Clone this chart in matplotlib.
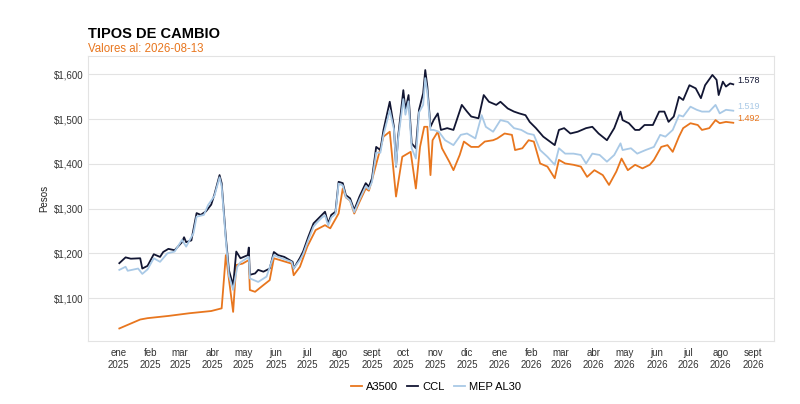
import pandas as pd
import matplotlib.pyplot as plt

plt.rcParams['font.family'] = ['Liberation Sans', 'DejaVu Sans']

# Colores de cada serie
c_a3500 = '#E8761E'
c_ccl = '#121633'
c_mep = '#A9C9E6'

# CCL
ccl_dates = ['2025-01-02', '2025-01-08', '2025-01-13', '2025-01-22', '2025-01-24', '2025-01-29',
             '2025-02-04', '2025-02-10', '2025-02-13', '2025-02-18', '2025-02-24', '2025-03-03',
             '2025-03-05', '2025-03-07', '2025-03-12', '2025-03-17', '2025-03-21', '2025-03-26',
             '2025-03-31', '2025-04-03', '2025-04-08', '2025-04-10', '2025-04-14', '2025-04-17',
             '2025-04-21', '2025-04-24', '2025-04-28', '2025-05-05', '2025-05-06', '2025-05-07',
             '2025-05-12', '2025-05-15', '2025-05-20', '2025-05-26', '2025-05-30', '2025-06-03',
             '2025-06-09', '2025-06-17', '2025-06-18', '2025-06-24', '2025-06-27', '2025-07-02',
             '2025-07-07', '2025-07-10', '2025-07-15', '2025-07-18', '2025-07-21', '2025-07-24',
             '2025-07-28', '2025-07-31', '2025-08-04', '2025-08-07', '2025-08-11', '2025-08-15',
             '2025-08-20', '2025-08-26', '2025-08-29', '2025-09-01', '2025-09-05', '2025-09-09',
             '2025-09-12', '2025-09-18', '2025-09-22', '2025-09-24', '2025-09-26', '2025-10-01',
             '2025-10-03', '2025-10-06', '2025-10-09', '2025-10-13', '2025-10-16', '2025-10-20',
             '2025-10-22', '2025-10-24', '2025-10-27', '2025-10-30', '2025-11-03', '2025-11-06',
             '2025-11-12', '2025-11-18', '2025-11-26', '2025-12-01', '2025-12-05', '2025-12-12',
             '2025-12-17', '2025-12-22', '2025-12-29', '2026-01-02', '2026-01-09', '2026-01-15',
             '2026-01-20', '2026-01-26', '2026-01-30', '2026-02-05', '2026-02-12', '2026-02-23',
             '2026-02-27', '2026-03-04', '2026-03-10', '2026-03-17', '2026-03-25', '2026-03-31',
             '2026-04-06', '2026-04-14', '2026-04-21', '2026-04-27', '2026-04-29', '2026-05-05',
             '2026-05-11', '2026-05-15', '2026-05-20', '2026-05-28', '2026-06-03', '2026-06-08',
             '2026-06-12', '2026-06-17', '2026-06-22', '2026-06-26', '2026-07-02', '2026-07-08',
             '2026-07-13', '2026-07-17', '2026-07-24', '2026-07-28', '2026-07-30', '2026-08-03',
             '2026-08-06', '2026-08-10', '2026-08-13']
ccl_vals = [1178, 1191, 1188, 1189, 1166, 1172,
            1198, 1192, 1203, 1210, 1207, 1225,
            1236, 1225, 1229, 1290, 1286, 1294,
            1309, 1331, 1375, 1357, 1236, 1162,
            1128, 1204, 1189, 1196, 1213, 1152,
            1155, 1163, 1159, 1166, 1203, 1196,
            1192, 1181, 1166, 1190, 1204, 1237,
            1267, 1274, 1286, 1293, 1267, 1286,
            1293, 1360, 1357, 1330, 1323, 1297,
            1327, 1357, 1349, 1368, 1438, 1431,
            1476, 1539, 1483, 1394, 1461, 1565,
            1521, 1554, 1446, 1435, 1521, 1558,
            1610, 1573, 1483, 1498, 1513, 1476,
            1480, 1476, 1532, 1517, 1506, 1502,
            1554, 1539, 1532, 1539, 1524, 1517,
            1513, 1509, 1494, 1480, 1461, 1442,
            1476, 1480, 1468, 1472, 1480, 1483,
            1468, 1453, 1480, 1517, 1498, 1491,
            1476, 1476, 1487, 1487, 1517, 1517,
            1494, 1506, 1550, 1543, 1576, 1569,
            1547, 1576, 1599, 1588, 1554, 1584,
            1573, 1580, 1578]

# MEP AL30
mep_dates = ['2025-01-02', '2025-01-08', '2025-01-10', '2025-01-20', '2025-01-24', '2025-01-29',
             '2025-02-04', '2025-02-10', '2025-02-17', '2025-02-24', '2025-03-03', '2025-03-07',
             '2025-03-14', '2025-03-17', '2025-03-24', '2025-03-28', '2025-04-03', '2025-04-08',
             '2025-04-10', '2025-04-14', '2025-04-17', '2025-04-21', '2025-04-25', '2025-04-28',
             '2025-05-06', '2025-05-07', '2025-05-15', '2025-05-23', '2025-05-30', '2025-06-03',
             '2025-06-16', '2025-06-18', '2025-06-24', '2025-06-27', '2025-07-02', '2025-07-07',
             '2025-07-10', '2025-07-15', '2025-07-18', '2025-07-21', '2025-07-24', '2025-07-28',
             '2025-07-31', '2025-08-04', '2025-08-07', '2025-08-11', '2025-08-15', '2025-08-20',
             '2025-08-26', '2025-08-29', '2025-09-01', '2025-09-05', '2025-09-09', '2025-09-12',
             '2025-09-18', '2025-09-22', '2025-09-24', '2025-09-26', '2025-10-01', '2025-10-03',
             '2025-10-06', '2025-10-09', '2025-10-13', '2025-10-16', '2025-10-20', '2025-10-22',
             '2025-10-24', '2025-10-27', '2025-10-30', '2025-11-04', '2025-11-10', '2025-11-18',
             '2025-11-25', '2025-12-01', '2025-12-09', '2025-12-15', '2025-12-19', '2025-12-26',
             '2026-01-02', '2026-01-09', '2026-01-15', '2026-01-22', '2026-01-28', '2026-02-03',
             '2026-02-09', '2026-02-16', '2026-02-23', '2026-02-27', '2026-03-05', '2026-03-13',
             '2026-03-20', '2026-03-25', '2026-03-31', '2026-04-07', '2026-04-14', '2026-04-21',
             '2026-04-27', '2026-04-29', '2026-05-07', '2026-05-13', '2026-05-21', '2026-05-29',
             '2026-06-04', '2026-06-09', '2026-06-16', '2026-06-22', '2026-06-26', '2026-07-03',
             '2026-07-09', '2026-07-14', '2026-07-21', '2026-07-27', '2026-07-31', '2026-08-06',
             '2026-08-13']
mep_vals = [1163, 1170, 1161, 1166, 1154, 1164,
            1189, 1181, 1200, 1204, 1230, 1215,
            1245, 1282, 1286, 1308, 1328, 1370,
            1350, 1230, 1150, 1118, 1170, 1180,
            1192, 1144, 1136, 1148, 1196, 1192,
            1181, 1166, 1185, 1198, 1230, 1260,
            1268, 1280, 1285, 1262, 1280, 1288,
            1356, 1352, 1326, 1318, 1292, 1320,
            1350, 1343, 1360, 1425, 1425, 1465,
            1520, 1478, 1395, 1455, 1545, 1510,
            1540, 1435, 1412, 1515, 1532, 1592,
            1560, 1476, 1476, 1472, 1453, 1442,
            1465, 1468, 1457, 1509, 1483, 1472,
            1498, 1494, 1480, 1476, 1468, 1465,
            1431, 1416, 1398, 1435, 1423, 1423,
            1420, 1401, 1423, 1420, 1405, 1420,
            1446, 1431, 1435, 1423, 1431, 1438,
            1465, 1461, 1476, 1509, 1506, 1528,
            1521, 1517, 1517, 1532, 1513, 1521,
            1519]

# A3500
a3500_dates = ['2025-01-02', '2025-01-22', '2025-01-29', '2025-02-18', '2025-03-10', '2025-03-31',
               '2025-04-10', '2025-04-14', '2025-04-21', '2025-04-24', '2025-04-30', '2025-05-06',
               '2025-05-07', '2025-05-12', '2025-05-20', '2025-05-26', '2025-05-30', '2025-06-16',
               '2025-06-18', '2025-06-24', '2025-07-01', '2025-07-09', '2025-07-18', '2025-07-23',
               '2025-07-31', '2025-08-04', '2025-08-07', '2025-08-11', '2025-08-15', '2025-08-20',
               '2025-08-26', '2025-08-29', '2025-09-01', '2025-09-12', '2025-09-18', '2025-09-24',
               '2025-09-30', '2025-10-08', '2025-10-13', '2025-10-17', '2025-10-21', '2025-10-24',
               '2025-10-27', '2025-10-29', '2025-11-03', '2025-11-07', '2025-11-14', '2025-11-18',
               '2025-11-24', '2025-11-28', '2025-12-05', '2025-12-12', '2025-12-18', '2025-12-26',
               '2025-12-30', '2026-01-06', '2026-01-13', '2026-01-16', '2026-01-23', '2026-01-29',
               '2026-02-03', '2026-02-09', '2026-02-16', '2026-02-23', '2026-02-27', '2026-03-05',
               '2026-03-13', '2026-03-20', '2026-03-26', '2026-04-02', '2026-04-10', '2026-04-16',
               '2026-04-23', '2026-04-28', '2026-05-04', '2026-05-11', '2026-05-18', '2026-05-25',
               '2026-05-29', '2026-06-05', '2026-06-11', '2026-06-16', '2026-06-22', '2026-06-26',
               '2026-07-03', '2026-07-10', '2026-07-14', '2026-07-21', '2026-07-27', '2026-07-31',
               '2026-08-06', '2026-08-13']
a3500_vals = [1032, 1052, 1055, 1060, 1066, 1071,
              1077, 1196, 1069, 1174, 1177, 1185,
              1118, 1114, 1129, 1140, 1189, 1177,
              1151, 1170, 1215, 1252, 1263, 1256,
              1289, 1345, 1325, 1318, 1289, 1315,
              1345, 1340, 1364, 1461, 1472, 1327,
              1416, 1427, 1345, 1438, 1483, 1483,
              1375, 1453, 1472, 1435, 1405, 1386,
              1420, 1450, 1438, 1438, 1450, 1453,
              1457, 1468, 1465, 1431, 1435, 1453,
              1450, 1401, 1394, 1368, 1409, 1401,
              1398, 1394, 1371, 1386, 1375, 1353,
              1383, 1412, 1386, 1398, 1390, 1398,
              1409, 1438, 1442, 1427, 1461, 1480,
              1491, 1487, 1476, 1480, 1498, 1491,
              1494, 1492]

series = [('A3500', a3500_dates, a3500_vals, c_a3500),
          ('CCL', ccl_dates, ccl_vals, c_ccl),
          ('MEP AL30', mep_dates, mep_vals, c_mep)]

month_names = ['ene', 'feb', 'mar', 'abr', 'may', 'jun', 'jul', 'ago', 'sept', 'oct', 'nov', 'dic']

fig = plt.figure(figsize=(8, 4.04), dpi=100)
ax = fig.add_axes([0.11, 0.156, 0.8575, 0.705])

for name, d, v, col in series:
    ax.plot(pd.to_datetime(d), v, color=col, lw=1.3, label=name)

# Último valor al final de cada serie
for name, d, v, col in series:
    ax.annotate(f'{v[-1]:,}'.replace(',', '.'), (pd.to_datetime(d[-1]), v[-1]),
                xytext=(3, 3), textcoords='offset points', fontsize=6.5,
                color=col, va='center', ha='left')

ax.set_xlim(pd.Timestamp('2024-12-03'), pd.Timestamp('2026-09-21'))
ax.set_ylim(1004, 1641)

ticks = pd.date_range('2025-01-01', '2026-09-01', freq='MS')
ax.set_xticks(ticks)
ax.set_xticklabels([f'{month_names[t.month - 1]}\n{t.year}' for t in ticks])
ax.set_yticks([1100, 1200, 1300, 1400, 1500, 1600])
ax.set_yticklabels([f'${t:,}' for t in [1100, 1200, 1300, 1400, 1500, 1600]])
ax.tick_params(length=0, labelsize=7, colors='#333333')
ax.tick_params(axis='x', pad=5)
ax.tick_params(axis='y', pad=3.5)
ax.grid(axis='y', color='#e3e3e3', lw=0.8)
ax.set_axisbelow(True)
for s in ax.spines.values():
    s.set_color('#e3e3e3')
    s.set_linewidth(0.8)

ax.set_ylabel('Pesos', fontsize=7, color='#222222')
ax.yaxis.set_label_coords(-0.057, 0.5)

fig.text(0.11, 1 - 38 / 404, 'TIPOS DE CAMBIO', fontsize=10.5, fontweight='bold', color='black')
fig.text(0.11, 1 - 52 / 404, 'Valores al: 2026-08-13', fontsize=8.3, color=c_a3500)

fig.legend(loc='lower center', bbox_to_anchor=(0.545, 0.005), ncol=3, frameon=False,
           fontsize=8, handlelength=1.0, columnspacing=0.8, handletextpad=0.4)

fig.savefig('out.png', dpi=100)
